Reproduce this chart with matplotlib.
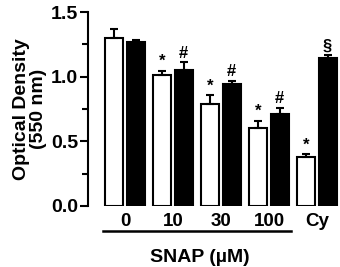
import numpy as np
import matplotlib.pyplot as plt
import matplotlib.transforms as mtransforms

plt.rcParams['font.family'] = ['Liberation Sans', 'DejaVu Sans']
plt.rcParams['font.weight'] = 'bold'

groups = ["0", "10", "30", "100", "Cy"]
white_vals = [1.30, 1.015, 0.79, 0.60, 0.38]
white_err = [0.07, 0.03, 0.065, 0.06, 0.02]
black_vals = [1.27, 1.05, 0.94, 0.71, 1.145]
black_err = [0.01, 0.06, 0.025, 0.05, 0.02]
white_marks = ["", "*", "*", "*", "*"]
black_marks = ["", "#", "#", "#", "\u00a7"]

fig = plt.figure(figsize=(3.4, 2.67), dpi=100)
ax = fig.add_axes([88/340, 61/267, 252/340, 194/267])

x = np.arange(len(groups))
w = 0.375
off = 0.22

ax.bar(x - off, white_vals, w, color="white", edgecolor="black", lw=1.5,
       yerr=[np.zeros(5), white_err], error_kw=dict(lw=1.5, capsize=3, capthick=1.5))
ax.bar(x + off, black_vals, w, color="black", edgecolor="black", lw=1.5,
       yerr=[np.zeros(5), black_err], error_kw=dict(lw=1.5, capsize=3, capthick=1.5))

for i in range(len(groups)):
    if white_marks[i]:
        ax.text(x[i] - off, white_vals[i] + white_err[i] + 0.015, white_marks[i],
                ha="center", va="bottom", fontsize=12, fontweight="bold")
    if black_marks[i]:
        ax.text(x[i] + off, black_vals[i] + black_err[i] + 0.015, black_marks[i],
                ha="center", va="bottom", fontsize=12, fontweight="bold")

ax.set_xlim(-0.77, 4.48)
ax.set_ylim(0, 1.5)
ax.set_yticks([0, 0.5, 1.0, 1.5])
ax.set_yticklabels(["0.0", "0.5", "1.0", "1.5"], fontsize=14, fontweight="bold")
ax.set_yticks([0.25, 0.75, 1.25], minor=True)
ax.tick_params(axis="y", which="major", length=6, width=1.5, pad=1)
ax.tick_params(axis="y", which="minor", length=4, width=1.5)

ax.set_xticks(x)
ax.set_xticklabels(groups, fontsize=13.5, fontweight="bold")
ax.tick_params(axis="x", length=0, pad=5)

for s in ["top", "right", "bottom"]:
    ax.spines[s].set_visible(False)
ax.spines["left"].set_linewidth(1.5)

ax.set_ylabel("Optical Density\n(550 nm)", fontsize=14, fontweight="bold",
              labelpad=3, linespacing=1.0)

trans = mtransforms.blended_transform_factory(ax.transData, ax.transAxes)
ax.plot([-0.45, 3.46], [-0.129, -0.129], color="black", lw=1.8,
        transform=trans, clip_on=False)
ax.text(1.56, -0.268, "SNAP (\u00b5M)", transform=trans, ha="center", va="center",
        fontsize=14, fontweight="bold")

plt.savefig("out.png", dpi=100)
